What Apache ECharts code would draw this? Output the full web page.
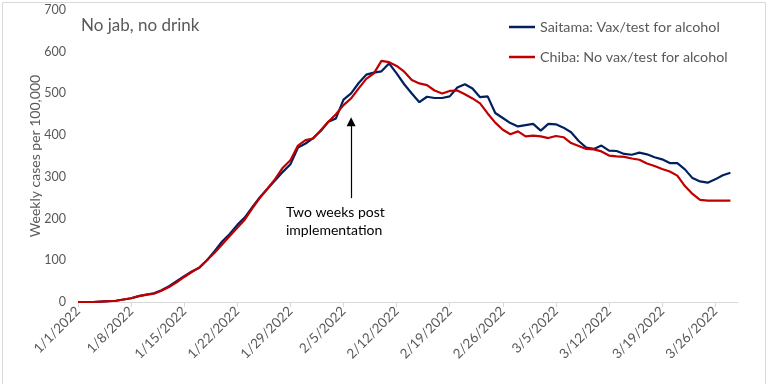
<!DOCTYPE html>
<html>
<head>
<meta charset="utf-8">
<script src="https://cdn.jsdelivr.net/npm/echarts@6/dist/echarts.min.js"></script>
<style>html,body{margin:0;padding:0;background:#fff;}#c{width:768px;height:384px;}</style>
</head>
<body>
<div id="c"></div>
<script>
// Daily categories 1/1/2022 .. 3/29/2022 (last one has no data)
const monthDays = [31, 28, 31];
const categories = [];
for (let m = 0; m < 3; m++) {
  for (let d = 1; d <= monthDays[m]; d++) {
    categories.push((m + 1) + '/' + d + '/2022');
    if (categories.length === 88) break;
  }
  if (categories.length === 88) break;
}

const saitama = [
  0, 0, 0, 1, 2, 3, 6, 9, 14, 18,
  21, 28, 38, 50, 62, 73, 82, 100, 122, 145,
  163, 185, 203, 228, 252, 272, 292, 312, 330, 370,
  380, 393, 410, 432, 440, 485, 500, 525, 545, 550,
  553, 572, 548, 522, 500, 479, 492, 489, 489, 493,
  514, 522, 512, 491, 493, 453, 441, 429, 421, 424,
  427, 411, 427, 426, 418, 407, 386, 370, 367, 375,
  363, 362, 355, 353, 358, 354, 347, 342, 333, 333,
  318, 297, 289, 286, 294, 304, 310, null
];

const chiba = [
  0, 0, 0, 1, 2, 3, 6, 9, 14, 17,
  20, 27, 36, 47, 60, 72, 83, 100, 118, 138,
  158, 178, 198, 225, 250, 272, 295, 322, 340, 375,
  388, 392, 412, 432, 450, 472, 488, 512, 535, 548,
  578, 575, 566, 552, 532, 524, 520, 507, 500, 506,
  507, 498, 488, 476, 452, 430, 413, 402, 409, 397,
  399, 397, 393, 398, 395, 381, 374, 367, 366, 361,
  351, 349, 348, 344, 341, 332, 326, 319, 313, 303,
  278, 259, 245, 243, 243, 243, 243, null
];

const yTicks = { min: 0, max: 700, interval: 100 };
const arrowDate = '2/6/2022';
const arrowFrom = 249, arrowTo = 432;

const chart = echarts.init(document.getElementById('c'));
const FONT = 'Lato';
chart.setOption({
  animation: false,
  textStyle: { fontFamily: FONT },
  grid: { left: 78, right: 30, top: 10, bottom: 82 },
  legend: {
    orient: 'vertical',
    left: 504,
    top: 15,
    icon: 'rect',
    itemWidth: 26,
    itemHeight: 2.5,
    itemGap: 16,
    textStyle: { color: '#595959', fontSize: 14.3, fontFamily: FONT, lineHeight: 14 },
    data: ['Saitama: Vax/test for alcohol', 'Chiba: No vax/test for alcohol']
  },
  xAxis: {
    type: 'category',
    data: categories,
    boundaryGap: false,
    axisLine: { lineStyle: { color: '#d9d9d9', width: 1 } },
    axisTick: { interval: 6, length: 5, lineStyle: { color: '#d9d9d9' } },
    axisLabel: { interval: 6, rotate: 45, color: '#595959', fontSize: 13.5, fontFamily: FONT, margin: 7 },
    splitLine: { show: false }
  },
  yAxis: {
    type: 'value',
    min: yTicks.min, max: yTicks.max, interval: yTicks.interval,
    name: 'Weekly cases per 100,000',
    nameLocation: 'middle',
    nameGap: 36,
    nameMoveOverlap: false,
    nameTextStyle: { color: '#595959', fontSize: 14, fontFamily: FONT },
    axisLine: { show: false },
    axisTick: { show: false },
    splitLine: { show: false },
    axisLabel: { color: '#595959', fontSize: 12.5, fontFamily: FONT, margin: 12 }
  },
  series: [
    {
      name: 'Saitama: Vax/test for alcohol',
      type: 'line',
      data: saitama,
      symbol: 'none',
      lineStyle: { color: '#002060', width: 2.2 },
      itemStyle: { color: '#002060' },
      z: 3,
      markLine: {
        silent: true,
        symbol: ['none', 'triangle'],
        symbolSize: 9,
        label: { show: false },
        itemStyle: { color: '#000' },
        lineStyle: { color: '#000', width: 1.2, type: 'solid' },
        data: [[{ coord: [arrowDate, arrowFrom] }, { coord: [arrowDate, arrowTo] }]]
      }
    },
    {
      name: 'Chiba: No vax/test for alcohol',
      type: 'line',
      data: chiba,
      symbol: 'none',
      lineStyle: { color: '#c00000', width: 2.2 },
      itemStyle: { color: '#c00000' },
      z: 4
    }
  ],
  graphic: [
    {
      type: 'rect', left: 0, top: 0, silent: true,
      shape: { x: 0.5, y: 0.5, width: 763, height: 382 },
      style: { fill: 'none', stroke: '#d9d9d9', lineWidth: 1 }
    },
    {
      type: 'text', left: 81, top: 17,
      style: { text: 'No jab, no drink', fill: '#595959', font: '17px ' + FONT }
    },
    {
      type: 'text', left: 286, top: 203,
      style: { text: 'Two weeks post\nimplementation', fill: '#000', font: '14px ' + FONT, lineHeight: 18 }
    }
  ]
});
</script>
</body>
</html>
